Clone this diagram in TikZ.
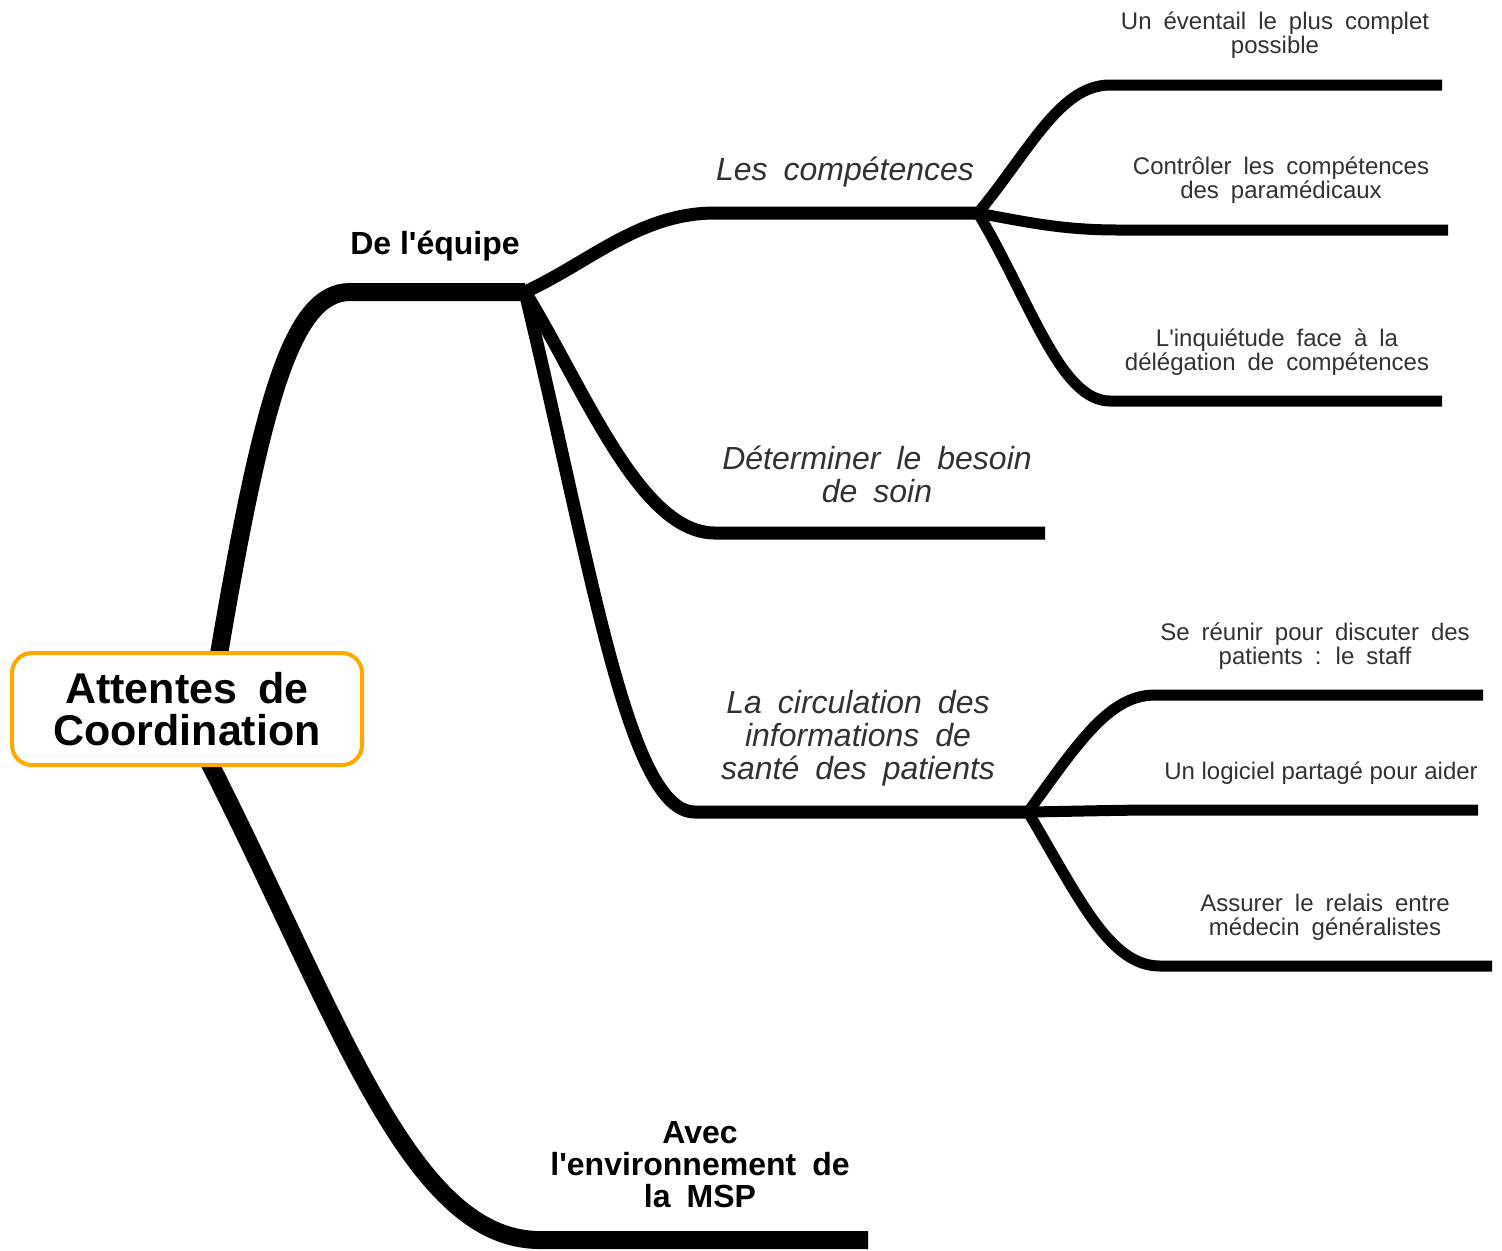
\documentclass[tikz,border=0pt]{standalone}
\usepackage{fontspec}
\setmainfont{Liberation Sans}
\newcommand\widesp{\spaceskip=0.5em\relax}
\newcommand\apos{\textquotesingle}
\definecolor{boxorange}{RGB}{255,168,0}
\definecolor{txtgray}{RGB}{50,50,50}
\tikzset{
  trunk/.style={line width=9pt,line cap=butt},
  midbr/.style={line width=6.5pt,line cap=butt},
  leafbr/.style={line width=5.5pt,line cap=butt},
  rootbox/.style={draw=boxorange,line width=2pt,rounded corners=10pt,fill=white,
    minimum width=175pt,minimum height=56pt,align=center,
    font=\fontsize{21.5}{21}\selectfont\bfseries\widesp},
  boldlab/.style={align=center,font=\fontsize{16}{16}\selectfont\bfseries},
  boldwide/.style={align=center,font=\fontsize{16}{16}\selectfont\bfseries\widesp},
  itallab/.style={align=center,text=txtgray,font=\fontsize{16}{16.5}\selectfont\itshape\widesp},
  leaflab/.style={align=center,text=txtgray,font=\fontsize{12}{12}\selectfont\widesp},
  leafplain/.style={align=center,text=txtgray,font=\fontsize{12}{12}\selectfont},
}
\begin{document}
\begin{tikzpicture}[x=0.5pt,y=-0.5pt]
\useasboundingbox (0,0) rectangle (1502,1250);
% coordinates
\coordinate (rt) at (218,660);
\coordinate (rb) at (208,760);
\coordinate (eqA) at (350,292);
\coordinate (eq) at (525,292);
\coordinate (envA) at (540,1240);
\coordinate (envB) at (868,1240);
\coordinate (compA) at (715,213);
\coordinate (comp) at (978,213);
\coordinate (detA) at (715,533);
\coordinate (detB) at (1045,533);
\coordinate (circA) at (695,812);
\coordinate (circ) at (1028,812);
\coordinate (l1A) at (1110,85);   \coordinate (l1B) at (1442,85);
\coordinate (l2A) at (1120,230);  \coordinate (l2B) at (1448,230);
\coordinate (l3A) at (1110,401);  \coordinate (l3B) at (1442,401);
\coordinate (l4A) at (1155,695);  \coordinate (l4B) at (1483,695);
\coordinate (l5A) at (1160,810);  \coordinate (l5B) at (1478,810);
\coordinate (l6A) at (1160,966);  \coordinate (l6B) at (1492,966);
% trunks
\draw[trunk] (rt) .. controls (262,400) and (292,292) .. (eqA) -- (eq);
\draw[trunk] (rb) .. controls (340,1020) and (410,1240) .. (envA) -- (envB);
% mid branches
\draw[midbr] (eq) .. controls (590,262) and (640,213) .. (compA) -- (comp);
\draw[midbr] (eq) .. controls (585,390) and (640,533) .. (detA) -- (detB);
\draw[midbr] (eq) .. controls (592,570) and (628,812) .. (circA) -- (circ);
% leaves
\draw[leafbr] (comp) .. controls (1030,150) and (1060,85) .. (l1A) -- (l1B);
\draw[leafbr] (comp) .. controls (1040,225) and (1070,230) .. (l2A) -- (l2B);
\draw[leafbr] (comp) .. controls (1030,300) and (1060,401) .. (l3A) -- (l3B);
\draw[leafbr] (circ) .. controls (1080,740) and (1110,695) .. (l4A) -- (l4B);
\draw[leafbr] (circ) .. controls (1090,811) and (1120,810) .. (l5A) -- (l5B);
\draw[leafbr] (circ) .. controls (1080,900) and (1110,966) .. (l6A) -- (l6B);
% root
\node[rootbox] (root) at (187,709) {Attentes de\\Coordination};
% labels
\node[boldlab] (equipe) at (435,246) {De l\apos équipe};
\node[boldwide] (env) at (700,1165) {Avec\\l\apos environnement de\\la MSP};
\node[itallab] (compt) at (845,172) {Les compétences};
\node[itallab] (dett) at (877,474) {Déterminer le besoin\\de soin};
\node[itallab] (circt) at (858,738) {La circulation des\\informations de\\santé des patients};
\node[leaflab] (t1) at (1275,35) {Un éventail le plus complet\\possible};
\node[leaflab] (t2) at (1281,180) {Contrôler les compétences\\des paramédicaux};
\node[leaflab] (t3) at (1277,352) {L\apos inquiétude face à la\\délégation de compétences};
\node[leaflab] (t4) at (1315,646) {Se réunir pour discuter des\\patients : le staff};
\node[leafplain] (t5) at (1321,773) {Un logiciel partagé pour aider};
\node[leaflab] (t6) at (1325,917) {Assurer le relais entre\\médecin généralistes};
\end{tikzpicture}
\end{document}
